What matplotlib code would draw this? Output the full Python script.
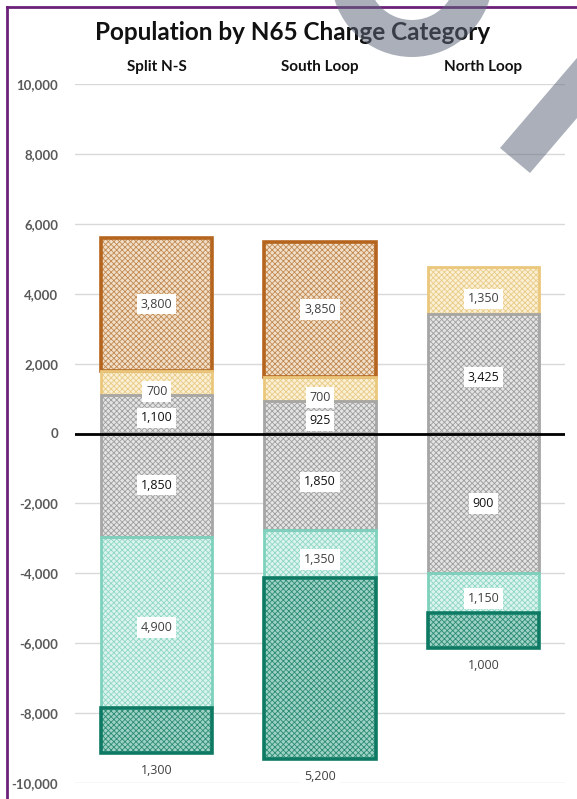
import matplotlib
matplotlib.use("Agg")
import matplotlib.pyplot as plt
import numpy as np
from matplotlib.patches import Polygon, Wedge
from matplotlib.lines import Line2D

# ---------------- data ----------------
categories = ["Split N-S", "South Loop", "North Loop"]

# positive stack (from zero upward)
gray_pos = [1100, 925, 3425]
gold = [700, 700, 1350]
brown = [3800, 3850, 0]
# negative stack (from zero downward), drawn lengths
gray_neg = [2950, 2775, 4000]
teal_light = [4900, 1350, 1150]
teal_dark = [1300, 5200, 1000]

# label texts as shown in the chart
lbl_gray_pos = ["1,100", "925", "3,425"]
lbl_gold = ["700", "700", "1,350"]
lbl_brown = ["3,800", "3,850", ""]
lbl_gray_neg = ["1,850", "1,850", "900"]
lbl_teal_light = ["4,900", "1,350", "1,150"]
lbl_teal_dark = ["1,300", "5,200", "1,000"]

yticks = [-10000, -8000, -6000, -4000, -2000, 0, 2000, 4000, 6000, 8000, 10000]

# ---------------- figure ----------------
W, H = 577, 799
fig = plt.figure(figsize=(W / 100, H / 100), dpi=100)
plt.rcParams['hatch.linewidth'] = 0.6

def fx(px):
    return px / W

def fy(py):
    return 1 - py / H

ax = fig.add_axes([fx(75), fy(783), fx(565) - fx(75), fy(84) - fy(783)])
ax.set_xlim(-0.5, 2.5)
ax.set_ylim(-10000, 10000)

x = np.arange(len(categories))
bw = 0.68
HATCH = "xxxxxx"

styles = {
    "brown": dict(face="#F2DFCA", hatch="#C08A52", edge="#B5651D", lw=2.6),
    "gold": dict(face="#FBF0D6", hatch="#E8CB85", edge="#EAC77C", lw=2.0),
    "gray": dict(face="#E4E4E4", hatch="#9E9E9E", edge="#A6A6A6", lw=2.0),
    "tl": dict(face="#DDF4EE", hatch="#8ED7C5", edge="#7ED1BD", lw=2.0),
    "td": dict(face="#9ED2C4", hatch="#2B8B75", edge="#0E7A64", lw=2.6),
}

def seg(xs, bottoms, heights, st):
    ax.bar(xs, heights, bw, bottom=bottoms, color=st["face"], edgecolor=st["hatch"],
           hatch=HATCH, linewidth=0, zorder=2)
    ax.bar(xs, heights, bw, bottom=bottoms, fill=False, edgecolor=st["edge"],
           linewidth=st["lw"], zorder=3)

gp = np.array(gray_pos, float)
gd = np.array(gold, float)
br = np.array(brown, float)
gn = np.array(gray_neg, float)
tl = np.array(teal_light, float)
td = np.array(teal_dark, float)

mb = br > 0
seg(x[mb], (gp + gd)[mb], br[mb], styles["brown"])
seg(x, gp, gd, styles["gold"])
seg(x, np.zeros(3), gp, styles["gray"])
seg(x, -gn, gn, styles["gray"])
seg(x, -gn - tl, tl, styles["tl"])
seg(x, -gn - tl - td, td, styles["td"])

# labels
box = dict(boxstyle="square,pad=0.3", fc="white", ec="none")
lab_font = dict(fontsize=9, family=["Open Sans", "DejaVu Sans"])

def put(xs, ys, texts, color="#404040", dy=0):
    for xi, yi, t in zip(xs, ys, texts):
        if t:
            ax.text(xi, yi + dy, t, ha="center", va="center", color=color,
                    bbox=box, zorder=5, **lab_font)

put(x, gp + gd + br / 2, lbl_brown)
put(x, gp + gd / 2, lbl_gold, dy=-250)
put(x, gp / 2, lbl_gray_pos, color="#111111", dy=-100)
put(x, -gn / 2, lbl_gray_neg, color="#111111")
put(x, -gn - tl / 2, lbl_teal_light, dy=-150)
# dark teal labels below bars
for xi, yi, t in zip(x, -gn - tl - td, lbl_teal_dark):
    ax.text(xi, yi - 480, t, ha="center", va="center", color="#404040",
            bbox=box, zorder=5, clip_on=False, **lab_font)

# axes styling
ax.set_yticks(yticks)
ax.set_yticklabels([f"{v:,}" for v in yticks], fontsize=9.5, color="#595959",
                   fontweight="bold", family=["Lato", "DejaVu Sans"])
ax.grid(axis="y", color="#D9D9D9", linewidth=1, zorder=0)
ax.set_axisbelow(True)
ax.axhline(0, color="black", linewidth=2, zorder=4)
for s in ax.spines.values():
    s.set_visible(False)
ax.tick_params(axis="y", length=0, pad=12)
ax.xaxis.tick_top()
ax.set_xticks(x)
ax.set_xticklabels(categories, fontsize=11, fontweight="bold", color="#111111",
                   family=["Lato", "DejaVu Sans"])
ax.tick_params(axis="x", length=0, pad=7)

fig.text(fx(293), fy(33), "Population by N65 Change Category", ha="center", va="center",
         fontsize=17.5, fontweight="bold", color="#111111", family=["Lato", "DejaVu Sans"])

# purple frame
fig.add_artist(Line2D([fx(7), fx(7)], [fy(7), fy(800)], color="#6B2178", linewidth=2,
                      transform=fig.transFigure))
fig.add_artist(Line2D([fx(7), fx(578)], [fy(7), fy(7)], color="#6B2178", linewidth=2,
                      transform=fig.transFigure))

# decorative gray overlay (ring arc + diagonal band), in display pixel coords
overlay_kw = dict(facecolor=(94 / 255, 103 / 255, 122 / 255), alpha=0.52, edgecolor="none", zorder=10)
ring_px = Wedge((412, H + 24), 81, 0, 360, width=37, transform=None, **overlay_kw)
band = Polygon([(500, H - 148), (530, H - 173), (630, H - 56), (600, H - 31)], closed=True,
               transform=None, **overlay_kw)
fig.add_artist(ring_px)
fig.add_artist(band)

fig.savefig("out.png", dpi=100)
